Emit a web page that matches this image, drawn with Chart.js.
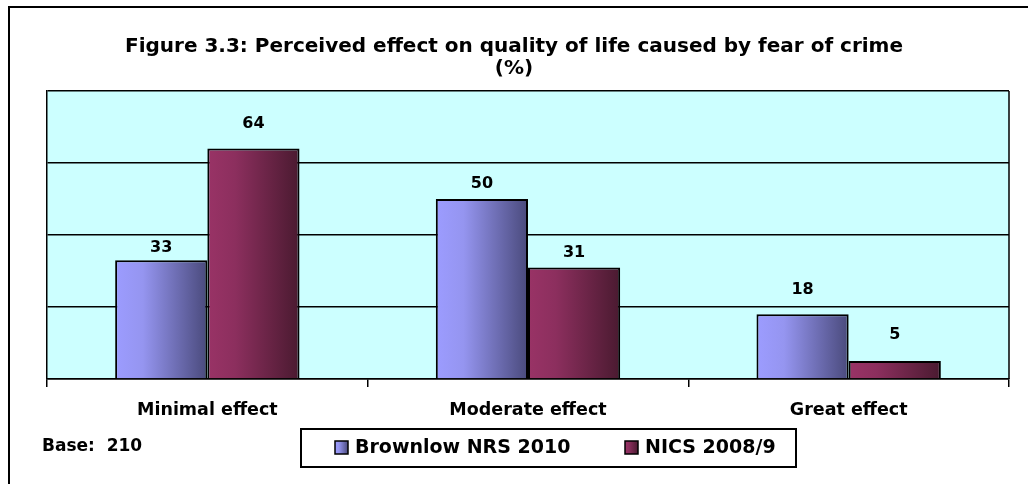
<!DOCTYPE html>
<html>
<head>
<meta charset="utf-8">
<script src="https://cdn.jsdelivr.net/npm/chart.js@4"></script>
<style>
  body { margin: 0; background: #fff; }
</style>
</head>
<body>
<canvas id="fearChart" width="1028" height="484"></canvas>
<script>
const categories = ['Minimal effect', 'Moderate effect', 'Great effect'];
const brownlow = [33, 50, 18];
const nics = [64, 31, 5];
const seriesNames = ['Brownlow NRS 2010', 'NICS 2008/9'];
const yTicks = [0, 20, 40, 60, 80];

const FONT = "'DejaVu Sans', Arial, sans-serif";
const CAT_PCT = 0.575;
// how far above each bar its value label sits (px), per series
const labelLift = [[11, 14, 23], [24, 14, 25]];

const gradStops = [
  ['#9c9cff', '#9595f0', '#4a4a7c'],
  ['#993366', '#8c2f5e', '#4a1a30']
];

function makeGrad(chart, left, width, stops) {
  const g = chart.ctx.createLinearGradient(left, 0, left + width, 0);
  g.addColorStop(0, stops[0]);
  g.addColorStop(0.3, stops[1]);
  g.addColorStop(1, stops[2]);
  return g;
}

function barFill(ctx) {
  const chart = ctx.chart;
  const a = chart.chartArea;
  const stops = gradStops[ctx.datasetIndex];
  if (!a || ctx.dataIndex === undefined) return stops[0];
  const cw = (a.right - a.left) / categories.length;
  const gw = cw * CAT_PCT;
  const bw = gw / 2;
  const left = chart.scales.x.getPixelForValue(ctx.dataIndex) - gw / 2 + ctx.datasetIndex * bw;
  return makeGrad(chart, left, bw, stops);
}

const framePlugin = {
  id: 'frame',
  beforeDraw(chart) {
    const c = chart.ctx, a = chart.chartArea;
    c.save();
    c.fillStyle = '#fff';
    c.fillRect(0, 0, chart.width, chart.height);
    c.strokeStyle = '#000';
    c.lineWidth = 2;
    c.beginPath();
    c.moveTo(9, chart.height);
    c.lineTo(9, 7);
    c.lineTo(chart.width, 7);
    c.stroke();
    c.fillStyle = '#ccffff';
    c.fillRect(a.left, a.top, a.right - a.left, a.bottom - a.top);
    c.restore();
  },
  afterDatasetsDraw(chart) {
    const c = chart.ctx, a = chart.chartArea;
    c.save();
    c.strokeStyle = '#000';
    c.lineWidth = 1.5;
    c.beginPath();
    c.moveTo(a.right, a.top);
    c.lineTo(a.right, a.bottom);
    c.stroke();
    c.fillStyle = '#000';
    c.font = 'bold 16px ' + FONT;
    c.textAlign = 'center';
    c.textBaseline = 'middle';
    chart.data.datasets.forEach((ds, di) => {
      chart.getDatasetMeta(di).data.forEach((bar, i) => {
        c.fillText(String(ds.data[i]), bar.x, bar.y - labelLift[di][i] - 1);
      });
    });
    c.restore();
  },
  afterDraw(chart) {
    const c = chart.ctx;
    c.save();
    // legend box
    c.strokeStyle = '#000';
    c.lineWidth = 2;
    c.strokeRect(301, 429, 495, 38);
    c.font = 'bold 19px ' + FONT;
    c.textBaseline = 'middle';
    c.textAlign = 'left';
    const items = [[335, 355], [625, 645]];
    seriesNames.forEach((name, i) => {
      const [sx, tx] = items[i];
      c.fillStyle = makeGrad(chart, sx, 13, gradStops[i]);
      c.fillRect(sx, 441, 13, 13);
      c.lineWidth = 1.5;
      c.strokeRect(sx, 441, 13, 13);
      c.fillStyle = '#000';
      c.fillText(name, tx, 448);
    });
    c.font = 'bold 17px ' + FONT;
    c.fillText('Base:  210', 42, 447);
    c.restore();
  }
};

new Chart(document.getElementById('fearChart'), {
  type: 'bar',
  data: {
    labels: categories,
    datasets: [
      { label: seriesNames[0], data: brownlow, backgroundColor: barFill, borderColor: '#000', borderWidth: 2 },
      { label: seriesNames[1], data: nics, backgroundColor: barFill, borderColor: '#000', borderWidth: 2 }
    ]
  },
  options: {
    responsive: false,
    devicePixelRatio: 1,
    animation: false,
    layout: { padding: { left: 19, right: 19, top: 0, bottom: 50 } },
    datasets: { bar: { barPercentage: 1, categoryPercentage: CAT_PCT, borderSkipped: 'bottom' } },
    scales: {
      x: {
        grid: { offset: true, drawOnChartArea: false, color: '#000', lineWidth: 1.5, tickLength: 8 },
        border: { color: '#000', width: 1.5 },
        ticks: { color: '#000', font: { family: FONT, size: 17.5, weight: 'bold' }, padding: 13 }
      },
      y: {
        min: yTicks[0],
        max: yTicks[yTicks.length - 1],
        afterBuildTicks(s) { s.ticks = yTicks.map(v => ({ value: v })); },
        afterFit(s) { s.width = 28; },
        grid: { color: '#000', lineWidth: 1.5, drawTicks: false },
        border: { color: '#000', width: 1.5 },
        ticks: { display: false }
      }
    },
    plugins: {
      legend: { display: false },
      tooltip: { enabled: false },
      title: {
        display: true,
        text: ['Figure 3.3: Perceived effect on quality of life caused by fear of crime', '(%)'],
        color: '#000',
        font: { family: FONT, size: 20, weight: 'bold', lineHeight: 1.1 },
        padding: { top: 36, bottom: 11 }
      }
    }
  },
  plugins: [framePlugin]
});
</script>
</body>
</html>
